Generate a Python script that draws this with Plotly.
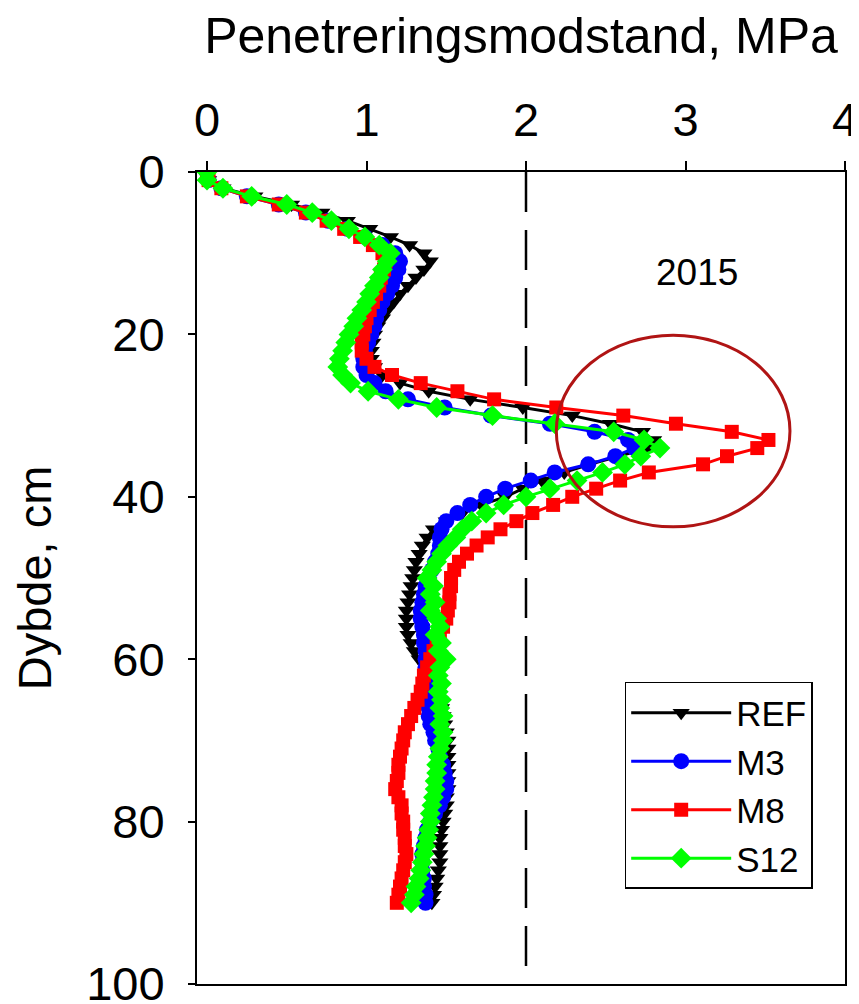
import plotly.graph_objects as go

depth = list(range(0, 91))

ref = [
    0.00, 0.01, 0.10, 0.30, 0.53, 0.72, 0.88, 1.02, 1.15, 1.27,
    1.36, 1.40, 1.36, 1.31, 1.26, 1.21, 1.17, 1.13, 1.10, 1.07,
    1.05, 1.04, 1.03, 1.03, 1.05, 1.10, 1.21, 1.39, 1.65, 1.98,
    2.29, 2.53, 2.73, 2.80, 2.76, 2.58, 2.40, 2.24, 2.10, 1.98,
    1.87, 1.72, 1.60, 1.50, 1.42, 1.38, 1.35, 1.33, 1.31, 1.30,
    1.29, 1.28, 1.27, 1.26, 1.25, 1.25, 1.25, 1.26, 1.28, 1.30,
    1.33, 1.37, 1.40, 1.43, 1.45, 1.46, 1.47, 1.48, 1.49, 1.50,
    1.51, 1.51, 1.51, 1.51, 1.51, 1.51, 1.51, 1.50, 1.50, 1.49,
    1.48, 1.47, 1.46, 1.46, 1.46, 1.46, 1.45, 1.44, 1.43, 1.42,
    1.41]

m3 = [
    0.00, 0.01, 0.09, 0.25, 0.45, 0.62, 0.76, 0.88, 0.99, 1.10,
    1.18, 1.21, 1.20, 1.18, 1.16, 1.13, 1.10, 1.08, 1.06, 1.05,
    1.03, 1.01, 0.99, 0.98, 0.98, 1.00, 1.05, 1.12, 1.26, 1.49,
    1.78, 2.15, 2.43, 2.64, 2.68, 2.56, 2.39, 2.18, 2.03, 1.87,
    1.75, 1.65, 1.57, 1.50, 1.47, 1.46, 1.46, 1.45, 1.43, 1.41,
    1.39, 1.37, 1.36, 1.35, 1.34, 1.34, 1.35, 1.36, 1.36, 1.37,
    1.37, 1.37, 1.38, 1.38, 1.39, 1.39, 1.39, 1.39, 1.40, 1.42,
    1.43, 1.45, 1.46, 1.48, 1.49, 1.50, 1.50, 1.48, 1.46, 1.43,
    1.40, 1.38, 1.37, 1.36, 1.35, 1.35, 1.35, 1.36, 1.36, 1.37,
    1.37]

m8 = [
    0.00, 0.01, 0.09, 0.25, 0.45, 0.62, 0.75, 0.86, 0.96, 1.04,
    1.10, 1.12, 1.11, 1.09, 1.08, 1.06, 1.04, 1.02, 1.00, 0.99,
    0.98, 0.97, 0.97, 1.00, 1.05, 1.16, 1.34, 1.57, 1.80, 2.19,
    2.61, 2.94, 3.29, 3.52, 3.45, 3.26, 3.11, 2.77, 2.59, 2.44,
    2.29, 2.17, 2.04, 1.94, 1.84, 1.76, 1.69, 1.63, 1.58, 1.55,
    1.53, 1.53, 1.52, 1.52, 1.51, 1.50, 1.48, 1.46, 1.44, 1.42,
    1.40, 1.38, 1.36, 1.35, 1.34, 1.32, 1.30, 1.28, 1.26, 1.24,
    1.23, 1.22, 1.21, 1.20, 1.20, 1.19, 1.18, 1.20, 1.22, 1.22,
    1.23, 1.23, 1.24, 1.24, 1.25, 1.24, 1.23, 1.22, 1.21, 1.20,
    1.19]

s12 = [
    0.00, 0.00, 0.10, 0.28, 0.50, 0.66, 0.78, 0.89, 0.99, 1.08,
    1.15, 1.13, 1.10, 1.08, 1.05, 1.02, 1.00, 0.97, 0.94, 0.92,
    0.89, 0.87, 0.85, 0.83, 0.82, 0.85, 0.90, 1.01, 1.20, 1.44,
    1.79, 2.18, 2.55, 2.74, 2.84, 2.72, 2.62, 2.48, 2.32, 2.15,
    2.00, 1.86, 1.75, 1.66, 1.60, 1.56, 1.51, 1.47, 1.44, 1.41,
    1.38, 1.42, 1.40, 1.43, 1.40, 1.44, 1.46, 1.43, 1.47, 1.45,
    1.50, 1.46, 1.45, 1.47, 1.45, 1.47, 1.46, 1.48, 1.46, 1.48,
    1.48, 1.46, 1.45, 1.44, 1.44, 1.43, 1.43, 1.42, 1.41, 1.40,
    1.40, 1.39, 1.38, 1.37, 1.36, 1.35, 1.34, 1.33, 1.31, 1.30,
    1.28]

series_names = ["REF", "M3", "M8", "S12"]
series_values = [ref, m3, m8, s12]
series_colors = ["#000000", "#0000FF", "#FF0000", "#00FF00"]
series_symbols = ["triangle-down", "circle", "square", "diamond"]
series_sizes = [15, 16, 14, 16]

threshold = 2.0
year_label = "2015"

FONT = "Liberation Sans, Arial, sans-serif"

fig = go.Figure()
for name, vals, col, sym, sz in zip(series_names, series_values, series_colors,
                                     series_symbols, series_sizes):
    fig.add_trace(go.Scatter(
        x=vals, y=depth, name=name, mode="lines+markers",
        line=dict(color=col, width=3),
        marker=dict(symbol=sym, size=sz, color=col, line=dict(width=0)),
    ))

# dashed threshold line
fig.add_shape(type="line", xref="x", yref="y", x0=threshold, x1=threshold,
              y0=0, y1=100, line=dict(color="black", width=2.5, dash="40px,18px"),
              layer="below")
# highlight ellipse around M8 peak
fig.add_shape(type="circle", xref="x", yref="y", x0=2.19, x1=3.655, y0=20.1, y1=43.7,
              line=dict(color="#B01414", width=3), layer="above")

fig.add_annotation(x=3.07, y=12.4, xref="x", yref="y", text=year_label,
                   showarrow=False, font=dict(family=FONT, size=37, color="black"))

# the page body adds an 8px offset, so margins compensate for it
fig.update_layout(
    width=859, height=1004,
    margin=dict(l=189, r=22, t=164, b=28, autoexpand=False),
    paper_bgcolor="white", plot_bgcolor="white",
    font=dict(family=FONT, color="black"),
    showlegend=True,
    legend=dict(x=0.66, y=0.372, xanchor="left", yanchor="top",
                bgcolor="white", bordercolor="black", borderwidth=1.5,
                font=dict(family=FONT, size=35, color="black"),
                itemwidth=100, tracegroupgap=0),
)

fig.update_xaxes(
    side="top", range=[-0.0627, 4.0], tickvals=[0, 1, 2, 3, 4],
    ticks="outside", ticklen=9, tickwidth=2, tickcolor="black",
    showline=True, linecolor="black", linewidth=2, mirror=True,
    showgrid=False, zeroline=False, automargin=False,
    tickfont=dict(family=FONT, size=47, color="black"), ticklabelstandoff=6,
    title=dict(text="Penetreringsmodstand, MPa",
               font=dict(family=FONT, size=50, color="black"), standoff=44),
)
fig.update_yaxes(
    range=[100, 0], tickvals=[0, 20, 40, 60, 80, 100],
    ticks="outside", ticklen=7, tickwidth=2, tickcolor="black",
    showline=True, linecolor="black", linewidth=2, mirror=True,
    showgrid=False, zeroline=False, automargin=False,
    tickfont=dict(family=FONT, size=47, color="black"), ticklabelstandoff=14,
    title=dict(text="Dybde, cm",
               font=dict(family=FONT, size=47, color="black"), standoff=40),
)

fig.write_html("out.html")
